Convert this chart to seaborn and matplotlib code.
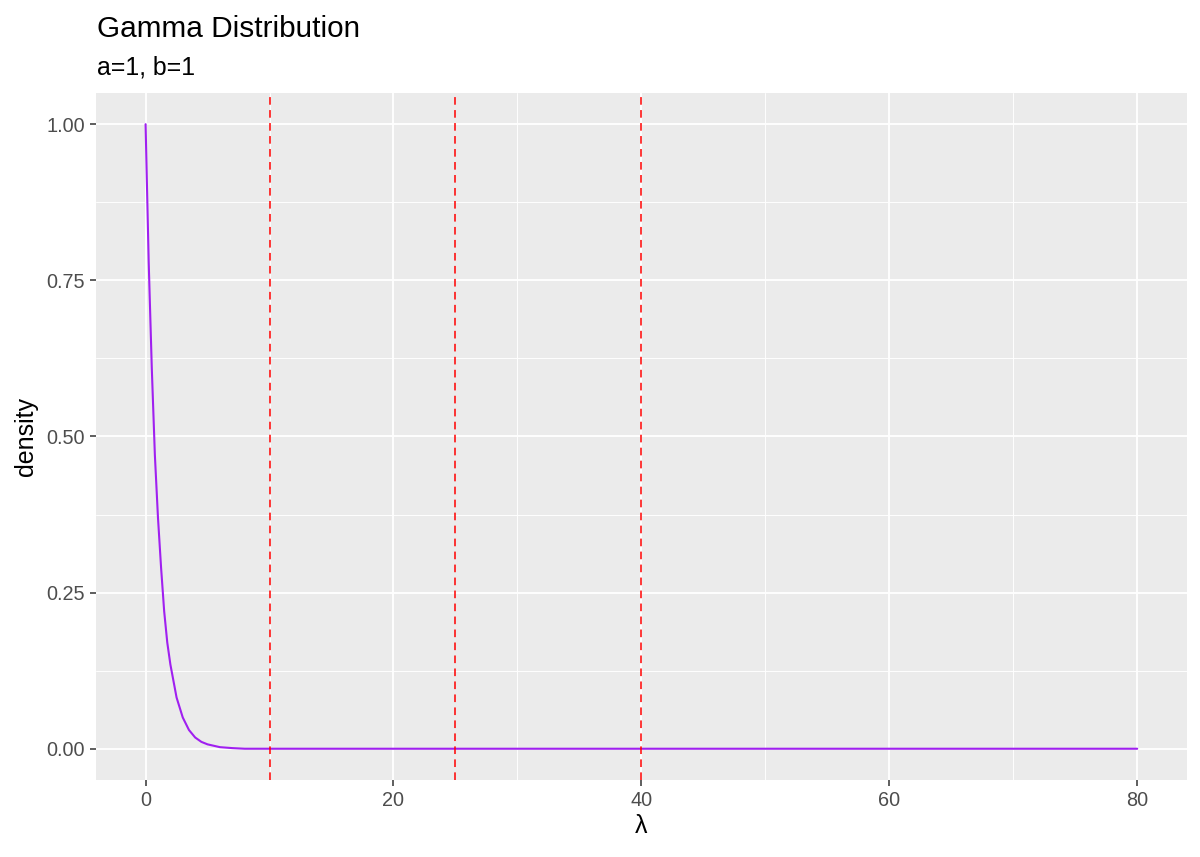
import pandas as pd
import seaborn as sns
import matplotlib.pyplot as plt
from matplotlib.ticker import FixedLocator

# density curve (gamma a=1, b=1)
lam = [0, 0.25, 0.5, 0.75, 1, 1.25, 1.5, 1.75, 2, 2.5, 3, 3.5, 4, 4.5, 5, 6, 7, 8, 80]
density = [1.00, 0.78, 0.61, 0.47, 0.37, 0.29, 0.22, 0.17, 0.135, 0.082, 0.050,
           0.030, 0.018, 0.011, 0.007, 0.0025, 0.001, 0.0, 0.0]
cutoffs = [10, 25, 40]

x_ticks = [0, 20, 40, 60, 80]
x_minor = [10, 30, 50, 70]
y_ticks = [0.00, 0.25, 0.50, 0.75, 1.00]
y_minor = [0.125, 0.375, 0.625, 0.875]

df = pd.DataFrame({"lam": lam, "density": density})

sns.set_theme(style="white")
plt.rcParams["font.family"] = ["Liberation Sans", "DejaVu Sans"]

fig = plt.figure(figsize=(12, 8.57), dpi=100)
ax = fig.add_axes([0.08, 0.0899, 0.909, 0.8016])
ax.set_facecolor("#EBEBEB")
for s in ax.spines.values():
    s.set_visible(False)

# grid like ggplot theme_grey
ax.xaxis.set_major_locator(FixedLocator(x_ticks))
ax.xaxis.set_minor_locator(FixedLocator(x_minor))
ax.yaxis.set_major_locator(FixedLocator(y_ticks))
ax.yaxis.set_minor_locator(FixedLocator(y_minor))
ax.grid(which="major", color="white", linewidth=1.3)
ax.grid(which="minor", color="white", linewidth=0.65)
ax.set_axisbelow(True)

sns.lineplot(data=df, x="lam", y="density", color="#A020F0", linewidth=1.5, ax=ax)
for c in cutoffs:
    ax.axvline(c, color="#FF0000", linewidth=1.1, linestyle=(0, (5, 3.5)))

ax.set_xlim(-4, 84)
ax.set_ylim(-0.05, 1.05)
ax.set_xticklabels([str(v) for v in x_ticks])
ax.set_yticklabels([f"{v:.2f}" for v in y_ticks])
ax.tick_params(which="major", length=4, width=1.1, color="#333333",
               labelcolor="#4D4D4D", labelsize=14.3, pad=4, left=True, bottom=True)
ax.tick_params(which="minor", length=0)

ax.set_xlabel("λ", fontsize=18, color="black", labelpad=3)
ax.set_ylabel("density", fontsize=18, color="black", labelpad=6)

fig.text(0.081, 0.957, "Gamma Distribution", fontsize=21.4, color="black", va="baseline")
fig.text(0.081, 0.913, "a=1, b=1", fontsize=17.9, color="black", va="baseline")

fig.savefig("out.png", dpi=100)
